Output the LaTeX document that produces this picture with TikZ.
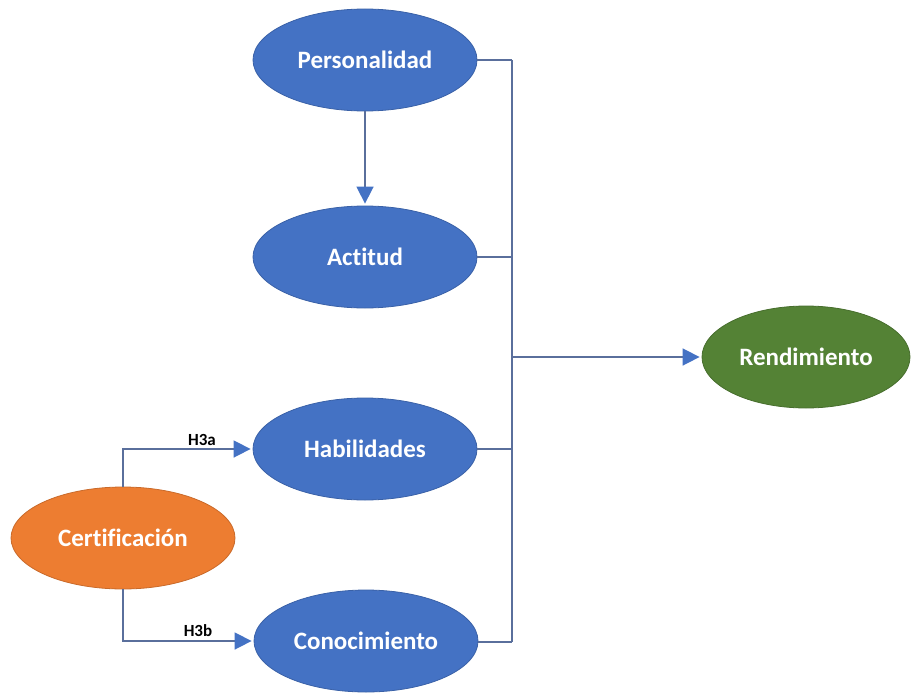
\documentclass[tikz,border=0pt]{standalone}
\usepackage{fontspec}
\setmainfont{Carlito}[Ligatures={NoCommon}]
\usetikzlibrary{shapes.geometric,arrows.meta}
\definecolor{blueFill}{HTML}{4472C4}
\definecolor{orangeFill}{HTML}{ED7D31}
\definecolor{greenFill}{HTML}{548235}
\definecolor{linkCol}{HTML}{5A6F9C}
\tikzset{
  construct/.style={ellipse, minimum width=224pt, minimum height=102pt, inner sep=0pt,
    font=\fontsize{25}{28}\selectfont\bfseries, text=white, line width=0.8pt},
  blueconstruct/.style={construct, fill=blueFill, draw=blueFill!85!black},
  link/.style={draw=linkCol, line width=1.6pt},
  linkarrow/.style={link, -{Triangle[length=17pt,width=17pt,color=blueFill]}, shorten >=2pt},
  hyplabel/.style={font=\fontsize{17}{20}\selectfont\bfseries, text=black, inner sep=0pt}
}
\begin{document}
\begin{tikzpicture}[x=1pt,y=-1pt]
  \useasboundingbox (0,0) rectangle (912,693);

  % constructs
  \node[blueconstruct] (pers) at (365,60)  {Personalidad};
  \node[blueconstruct] (act)  at (365,257) {Actitud};
  \node[blueconstruct] (hab)  at (365,449) {Habilidades};
  \node[blueconstruct] (con)  at (366,641) {Conocimiento};
  \node[construct, fill=orangeFill, draw=orangeFill!85!black] (cert) at (123,538) {Certificación};
  \node[construct, fill=greenFill, draw=greenFill!85!black, minimum width=208pt] (rend) at (806,357) {Rendimiento};

  % collector bus on the right
  \coordinate (busTop) at (512,60);
  \coordinate (busBot) at (512,642);
  \coordinate (busMid) at (512,357);

  \draw[link] (pers.east) -- (busTop);
  \draw[link] (act.east) -- (act.east -| busTop);
  \draw[link] (hab.east) -- (hab.east -| busTop);
  \draw[link] (con.east |- busBot) -- (busBot);
  \draw[link] (busTop) -- (busBot);
  \draw[linkarrow] (busMid) -- (rend.west);

  % personality to attitude
  \draw[linkarrow] (pers.south) -- (act.north);

  % certification paths
  \draw[linkarrow] (cert.north) |- (hab.west);
  \draw[linkarrow] (cert.south) |- (con.west);

  \node[hyplabel, anchor=south] (h3a) at (202,446) {H3a};
  \node[hyplabel, anchor=south] (h3b) at (198,637) {H3b};
\end{tikzpicture}
\end{document}
